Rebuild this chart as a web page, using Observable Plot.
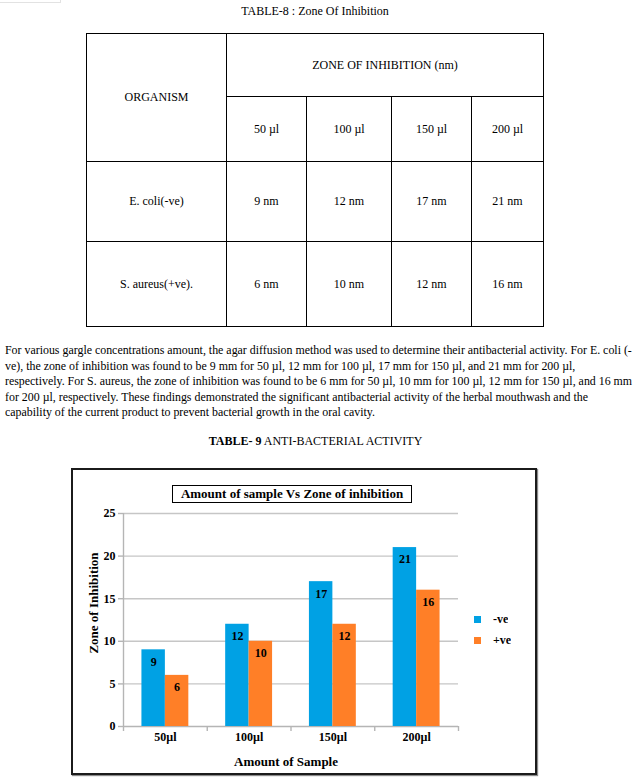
<!DOCTYPE html>
<html>
<head>
<meta charset="utf-8">
<script src="https://cdn.jsdelivr.net/npm/d3@7"></script>
<script src="https://cdn.jsdelivr.net/npm/@observablehq/plot@0.6"></script>
<style>
  html, body { margin: 0; padding: 0; background: #fff; }
  #page { position: relative; width: 639px; height: 784px; font-family: "Liberation Serif", "Times New Roman", serif; color: #000; overflow: hidden; }
  .abs { position: absolute; }
  #corner { left: 0; top: 0; width: 60px; height: 2px; border-right: 1px solid #e2e2e2; border-bottom: 1px solid #e2e2e2; }
  #t8 { left: 0; width: 630px; top: 4px; text-align: center; font-size: 12px; line-height: 14px; }
  #tbl { left: 86px; top: 33px; border-collapse: collapse; table-layout: fixed; font-size: 12px; }
  #tbl td { border: 1px solid #000; text-align: center; vertical-align: middle; padding: 0; }
  #para { left: 5px; top: 343px; font-size: 11.9px; line-height: 15.5px; white-space: nowrap; }
  #t9 { left: 0; width: 631px; top: 434px; text-align: center; font-size: 12px; line-height: 14px; }
  #box { left: 71px; top: 468px; width: 466px; height: 307px; box-sizing: border-box; border: 2px solid #1b1b1b; box-shadow: 1px 1px 1px #8a8a8a; }
  #chart { left: 71px; top: 468px; }
  #ctitle { left: 172px; top: 485px; width: 240px; height: 18px; box-sizing: border-box; border: 1px solid #000; font-weight: bold; font-size: 13px; line-height: 16px; text-align: center; white-space: nowrap; }
  #legend { left: 474px; top: 609px; }
  .lg-swatch { font-size: 12px; font-weight: bold; line-height: 20px; font-family: "Liberation Serif", serif; }
  .lg-swatch svg { margin-right: 12px !important; }
</style>
</head>
<body>
<div id="page">
  <div id="corner" class="abs"></div>
  <div id="t8" class="abs">TABLE-8 : Zone Of Inhibition</div>
  <table id="tbl" class="abs"></table>
  <div id="para" class="abs"></div>
  <div id="t9" class="abs"><b>TABLE- 9</b> ANTI-BACTERIAL ACTIVITY</div>
  <div id="box" class="abs"></div>
  <div id="chart" class="abs"></div>
  <div id="ctitle" class="abs">Amount of sample Vs Zone of inhibition</div>
  <div id="legend" class="abs"></div>
</div>
<script>
// ---------- data ----------
const organisms = ["E. coli(-ve)", "S. aureus(+ve)."];
const volumes = ["50 µl", "100 µl", "150 µl", "200 µl"];
const groups = ["50µl", "100µl", "150µl", "200µl"];
const series = ["-ve", "+ve"];
const negValues = [9, 12, 17, 21];
const posValues = [6, 10, 12, 16];
const yTicks = [0, 5, 10, 15, 20, 25];
const colors = ["#00a1e4", "#ff7f27"];
const paragraphLines = [
  "For various gargle concentrations amount, the agar diffusion method was used to determine their antibacterial activity. For E. coli (-",
  "ve), the zone of inhibition was found to be 9 mm for 50 µl, 12 mm for 100 µl, 17 mm for 150 µl, and 21 mm for 200 µl,",
  "respectively. For S. aureus, the zone of inhibition was found to be 6 mm for 50 µl, 10 mm for 100 µl, 12 mm for 150 µl, and 16 mm",
  "for 200 µl, respectively. These findings demonstrated the significant antibacterial activity of the herbal mouthwash and the",
  "capability of the current product to prevent bacterial growth in the oral cavity."
];

// ---------- table ----------
const colW = [140, 80, 85, 80, 72];
const rowH = [63, 65, 80, 85];
const tbl = document.getElementById("tbl");
tbl.style.width = d3.sum(colW) + "px";
const cg = document.createElement("colgroup");
colW.forEach(w => { const c = document.createElement("col"); c.style.width = w + "px"; cg.appendChild(c); });
tbl.appendChild(cg);
let tr = tbl.insertRow();
tr.style.height = rowH[0] + "px";
let td = tr.insertCell(); td.rowSpan = 2; td.textContent = "ORGANISM";
td = tr.insertCell(); td.colSpan = 4; td.textContent = "ZONE OF INHIBITION (nm)";
tr = tbl.insertRow(); tr.style.height = rowH[1] + "px";
volumes.forEach(v => { tr.insertCell().textContent = v; });
[negValues, posValues].forEach((vals, r) => {
  const row = tbl.insertRow(); row.style.height = rowH[2 + r] + "px";
  row.insertCell().textContent = organisms[r];
  vals.forEach(v => { row.insertCell().textContent = v + " nm"; });
});

// ---------- paragraph ----------
const para = document.getElementById("para");
paragraphLines.forEach(l => { const d = document.createElement("div"); d.textContent = l; para.appendChild(d); });

// ---------- chart ----------
const barW = 0.28;
const rows = [];
groups.forEach((g, gi) => {
  [negValues, posValues].forEach((vals, si) => {
    const x1 = gi + 0.5 - barW + si * barW;
    rows.push({group: g, series: series[si], value: vals[gi], x1, x2: x1 + barW});
  });
});

const font = {fontWeight: "bold", fontSize: 12, fill: "#000"};
const chart = Plot.plot({
  width: 466,
  height: 307,
  marginLeft: 52,
  marginRight: 79,
  marginTop: 45,
  marginBottom: 49,
  x: {domain: [0, groups.length], axis: null},
  y: {domain: [0, 25], axis: null},
  color: {domain: series, range: colors},
  style: {fontFamily: "Liberation Serif, serif", background: "transparent", overflow: "visible"},
  marks: [
    Plot.ruleY(yTicks.slice(1), {stroke: "#c6c6c6", strokeWidth: 1.4}),
    Plot.ruleX([0], {stroke: "#b5b5b5", strokeWidth: 1.4}),
    Plot.ruleY([0], {stroke: "#b5b5b5", strokeWidth: 1.4}),
    Plot.axisY({ticks: yTicks, tickSize: 5, tickPadding: 3, stroke: "#b5b5b5", strokeWidth: 1.4, label: null, ...font}),
    Plot.axisX({ticks: d3.range(groups.length + 1), tickSize: 5, stroke: "#b5b5b5", strokeWidth: 1.4, fill: "none", label: null}),
    Plot.rect(rows, {x1: "x1", x2: "x2", y1: () => 0, y2: "value", fill: "series"}),
    Plot.text(rows, {x: d => (d.x1 + d.x2) / 2, y: "value", text: "value", dy: 12, ...font}),
    Plot.text(groups, {x: (d, i) => i + 0.5, frameAnchor: "bottom", lineAnchor: "middle", dy: 11, text: d => d, ...font}),
    Plot.text(["Amount of Sample"], {frameAnchor: "bottom", lineAnchor: "middle", textAnchor: "middle", dx: -5, dy: 35, text: d => d, fontWeight: "bold", fontSize: 13, fill: "#000"}),
    Plot.text(["Zone of Inhibition"], {frameAnchor: "left", textAnchor: "middle", lineAnchor: "middle", dx: -30, dy: -17, rotate: -90, text: d => d, fontWeight: "bold", fontSize: 13, fill: "#000"})
  ]
});
document.getElementById("chart").appendChild(chart);

const legend = Plot.legend({
  color: {domain: series, range: colors},
  columns: 1,
  swatchSize: 7,
  className: "lg",
  style: {fontFamily: "Liberation Serif, serif"}
});
document.getElementById("legend").appendChild(legend);
</script>
</body>
</html>
